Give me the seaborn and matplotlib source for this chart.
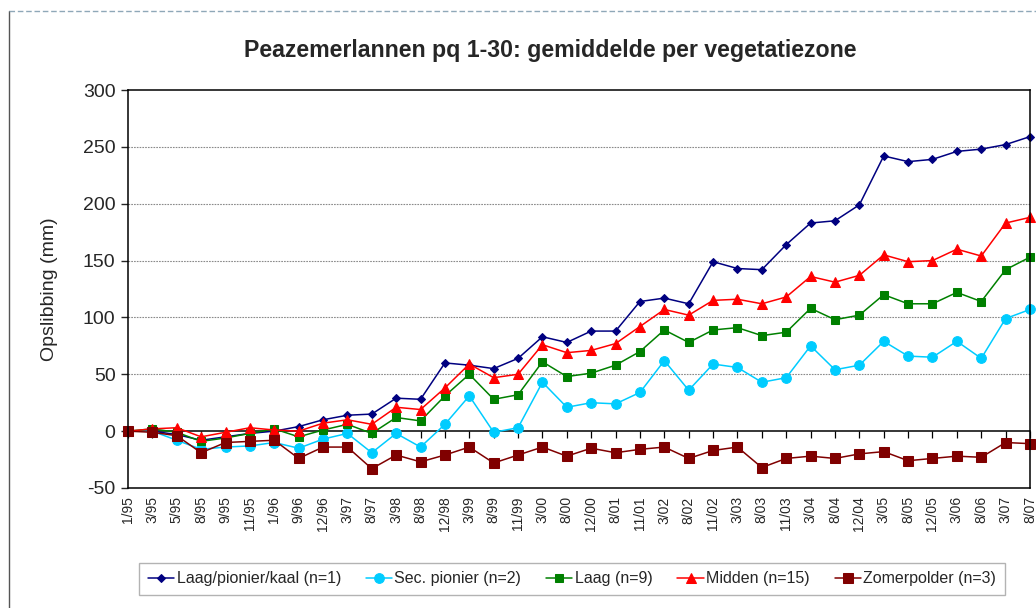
import numpy as np
import pandas as pd
import matplotlib
matplotlib.use("Agg")
import matplotlib.pyplot as plt
import seaborn as sns
from matplotlib.lines import Line2D

# meetmomenten (maand/jaar)
dates = ["1/95", "3/95", "5/95", "8/95", "9/95", "11/95", "1/96", "9/96", "12/96", "3/97",
         "8/97", "3/98", "8/98", "12/98", "3/99", "8/99", "11/99", "3/00", "8/00", "12/00",
         "8/01", "11/01", "3/02", "8/02", "11/02", "3/03", "8/03", "11/03", "3/04", "8/04",
         "12/04", "3/05", "8/05", "12/05", "3/06", "8/06", "3/07", "8/07"]

laag_pionier_kaal = [0, 0, -3, -8, -5, -2, 0, 4, 10, 14, 15, 29, 28, 60, 58, 55, 64, 83, 78, 88,
                     88, 114, 117, 112, 149, 143, 142, 164, 183, 185, 199, 242, 237, 239, 246, 248, 252, 259]
sec_pionier = [0, 0, -8, -16, -14, -13, -10, -15, -7, -2, -19, -2, -14, 6, 31, -1, 3, 43, 21, 25,
               24, 34, 62, 36, 59, 56, 43, 47, 75, 54, 58, 79, 66, 65, 79, 64, 99, 107]
laag = [0, 2, -1, -9, -6, -2, 2, -5, 1, 6, -2, 12, 9, 31, 50, 28, 32, 61, 48, 51,
        58, 70, 89, 78, 89, 91, 84, 87, 108, 98, 102, 120, 112, 112, 122, 114, 142, 153]
midden = [0, 2, 3, -5, -1, 3, 1, 0, 7, 10, 6, 21, 19, 38, 59, 47, 50, 76, 69, 71,
          77, 92, 107, 102, 115, 116, 112, 118, 136, 131, 137, 155, 149, 150, 160, 154, 183, 188]
zomerpolder = [0, -1, -4, -19, -10, -9, -8, -24, -14, -14, -33, -21, -27, -21, -14, -28, -21, -14, -22, -15,
               -19, -16, -14, -24, -17, -14, -32, -24, -22, -24, -20, -18, -26, -24, -22, -23, -10, -11]

series = [
    ("Laag/pionier/kaal (n=1)", laag_pionier_kaal, "#000080", "D", 4.2),
    ("Sec. pionier (n=2)", sec_pionier, "#00CCFF", "o", 7.0),
    ("Laag (n=9)", laag, "#008000", "s", 5.6),
    ("Midden (n=15)", midden, "#FF0000", "^", 7.5),
    ("Zomerpolder (n=3)", zomerpolder, "#800000", "s", 6.5),
]

sns.set_style("white")
plt.rcParams["font.family"] = ["Liberation Sans", "DejaVu Sans"]
plt.rcParams["axes.unicode_minus"] = False

fig = plt.figure(figsize=(10.36, 6.08), dpi=100)
ax = fig.add_axes([128 / 1036, 1 - 488 / 608, 902 / 1036, 398 / 608])

x = np.arange(len(dates))
for name, vals, color, marker, ms in series:
    df = pd.DataFrame({"x": x, "y": vals})
    sns.lineplot(data=df, x="x", y="y", ax=ax, color=color, marker=marker, markersize=ms,
                 markeredgecolor=color, linewidth=1.1, label=name, legend=False, clip_on=False)

ymin, ymax = -50, 300
ax.set_ylim(ymin, ymax)
ax.set_xlim(0, len(dates) - 1)
ax.set_yticks(np.arange(-50, 301, 50))
ax.tick_params(axis="y", labelsize=14, direction="out", length=5, width=1, left=True, pad=4)
ax.set_xticks(x)
ax.set_xticklabels(dates, rotation=90, fontsize=10)
ax.tick_params(axis="x", length=0, pad=6)
ax.set_xlabel("")
ax.set_ylabel("Opslibbing (mm)", fontsize=14, labelpad=18)

for yv in range(50, 300, 50):
    ax.axhline(yv, color="#8a8a8a", linewidth=0.8, linestyle=(0, (1.5, 1)), zorder=0)

for sp in ax.spines.values():
    sp.set_visible(True)
    sp.set_color("black")
    sp.set_linewidth(1.1)

# categorie-as op y = 0 met streepjes
sec = ax.secondary_xaxis((0 - ymin) / (ymax - ymin))
sec.set_xticks(x)
sec.tick_params(axis="x", direction="out", length=5, width=0.9, colors="black",
                labelbottom=False, labeltop=False, bottom=True, top=False)
for sp in sec.spines.values():
    sp.set_color("black")
    sp.set_linewidth(1.1)

fig.text(0.531, 1 - 50 / 608, "Peazemerlannen pq 1-30: gemiddelde per vegetatiezone",
         ha="center", va="center", fontsize=16.7, fontweight="bold")

handles, labels = ax.get_legend_handles_labels()
leg = fig.legend(handles, labels, loc="center", bbox_to_anchor=(572 / 1036, 1 - 579 / 608),
                 ncol=5, fontsize=11.5, frameon=True, fancybox=False, handlelength=1.65,
                 handletextpad=0.15, columnspacing=1.55, borderpad=0.55)
leg.get_frame().set_edgecolor("#a0a0a0")
leg.get_frame().set_linewidth(1.0)

# rand van het grafiekgebied
fig.add_artist(Line2D([9 / 1036, 9 / 1036], [0, 1 - 11 / 608], transform=fig.transFigure,
                      color="#555555", linewidth=1.0))
fig.add_artist(Line2D([9 / 1036, 1], [1 - 11 / 608, 1 - 11 / 608], transform=fig.transFigure,
                      color="#8fa8b8", linewidth=1.0, linestyle=(0, (4, 2))))

fig.savefig("out.png", dpi=100)
